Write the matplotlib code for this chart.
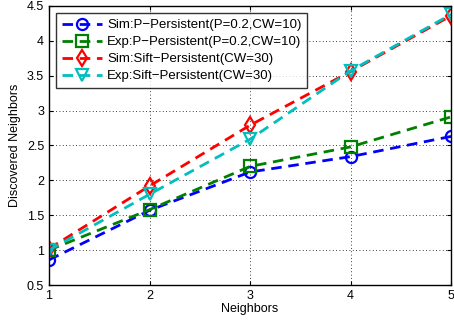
import matplotlib
matplotlib.use("Agg")
import matplotlib.pyplot as plt

neighbors = [1, 2, 3, 4, 5]
sim_p = [0.86, 1.57, 2.12, 2.34, 2.63]
exp_p = [1.00, 1.58, 2.20, 2.48, 2.91]
sim_sift = [1.02, 1.92, 2.79, 3.56, 4.36]
exp_sift = [1.00, 1.80, 2.59, 3.57, 4.38]

labels = [
    "Sim:P\u2212Persistent(P=0.2,CW=10)",
    "Exp:P\u2212Persistent(P=0.2,CW=10)",
    "Sim:Sift\u2212Persistent(CW=30)",
    "Exp:Sift\u2212Persistent(CW=30)",
]

plt.rcParams["font.family"] = ["Liberation Sans", "DejaVu Sans"]

fig = plt.figure(figsize=(4.54, 3.26), dpi=100)
ax = fig.add_axes([49 / 454, 41 / 326, 402 / 454, 279 / 326])

styles = [
    (sim_p, "#0000ff", "o"),
    (exp_p, "#008000", "s"),
    (sim_sift, "#ff0000", "d"),
    (exp_sift, "#00bfbf", "v"),
]
for (vals, col, mk), lab in zip(styles, labels):
    ax.plot(neighbors, vals, linestyle=(0, (3.8, 2.4)), color=col, linewidth=2,
            marker=mk, markersize=8, markerfacecolor="none",
            markeredgewidth=1.6, label=lab)

ax.set_xlim(1, 5)
ax.set_ylim(0.5, 4.5)
ax.set_xticks([1, 2, 3, 4, 5])
ax.set_yticks([0.5, 1, 1.5, 2, 2.5, 3, 3.5, 4, 4.5])
ax.set_yticklabels(["0.5", "1", "1.5", "2", "2.5", "3", "3.5", "4", "4.5"])
ax.tick_params(direction="in", labelsize=9, length=3, top=True, right=True)
ax.grid(True, color="black", linestyle=(0, (1, 3)), linewidth=0.6)
for s in ax.spines.values():
    s.set_linewidth(1.0)

ax.set_xlabel("Neighbors", fontsize=9, labelpad=1)
ax.set_ylabel("Discovered Neighbors", fontsize=9, labelpad=4)

leg = ax.legend(loc="upper left", fontsize=9.5, frameon=True, fancybox=False,
                edgecolor="black", borderaxespad=0.55, handlelength=3.0,
                labelspacing=0.36, borderpad=0.45, handletextpad=0.4)
leg.get_frame().set_linewidth(1.0)

fig.savefig("out.png", dpi=100)
